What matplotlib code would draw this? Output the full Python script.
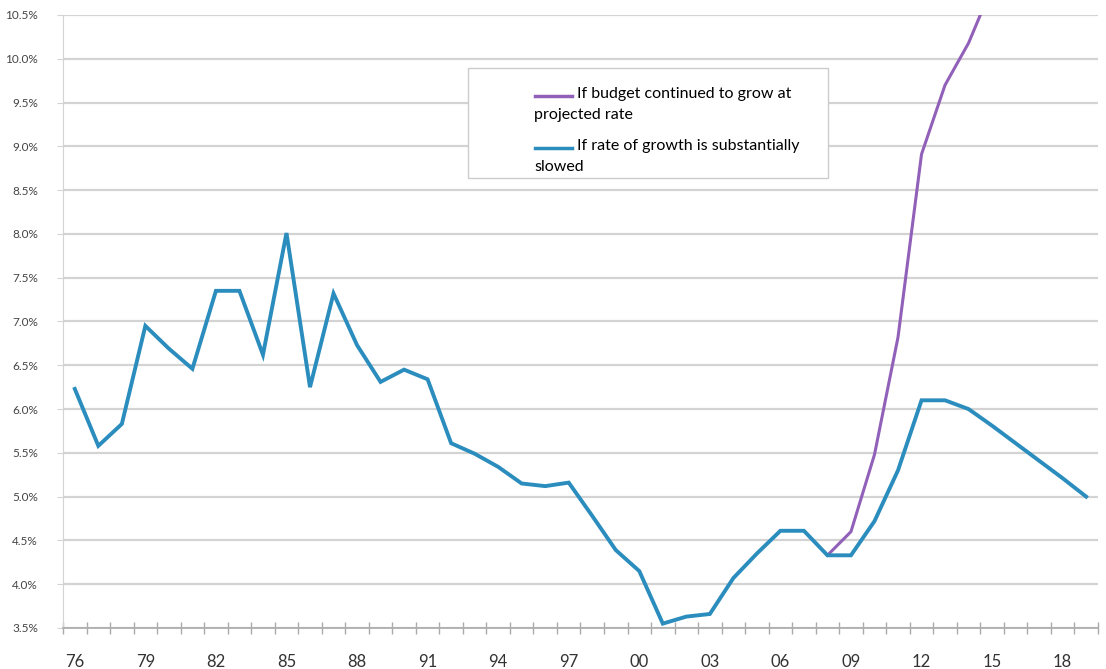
import numpy as np
import matplotlib.pyplot as plt
from matplotlib.patches import Rectangle
from matplotlib.ticker import FixedLocator, FuncFormatter

plt.rcParams['font.family'] = ['Lato', 'DejaVu Sans']

# jaren en reeksen (in %)
years = np.arange(1976, 2020)
slowed = [6.23, 5.58, 5.83, 6.95, 6.69, 6.46, 7.35, 7.35, 6.62, 8.01,
          6.25, 7.32, 6.73, 6.31, 6.45, 6.34, 5.61, 5.49, 5.34, 5.15,
          5.12, 5.16, 4.78, 4.39, 4.15, 3.55, 3.63, 3.66, 4.07, 4.35,
          4.61, 4.61, 4.33, 4.33, 4.72, 5.30, 6.10, 6.10, 6.00, 5.81,
          5.61, 5.41, 5.21, 5.00]
proj_years = np.arange(2008, 2016)
projected = [4.33, 4.60, 5.48, 6.82, 8.91, 9.70, 10.18, 10.82]

label_proj = "If budget continued to grow at\nprojected rate"
label_slow = "If rate of growth is substantially\nslowed"

blue = '#2b8dbd'
purple = '#9160b8'
grid_c = '#d3d3d3'

fig = plt.figure(figsize=(11.06, 6.69), dpi=100)
ax = fig.add_axes([0.057, 0.0613, 0.9357, 0.9163])

ax.plot(years, slowed, color=blue, lw=2.8, solid_joinstyle='miter', zorder=3)
ax.plot(proj_years, projected, color=purple, lw=2.2, zorder=2)

ax.set_xlim(1975.5, 2019.5)
ax.set_ylim(3.5, 10.5)

yt = np.arange(3.5, 10.51, 0.5)
ax.set_yticks(yt)
ax.yaxis.set_major_formatter(FuncFormatter(lambda v, p: f"{v:.1f}%"))
ax.grid(axis='y', color=grid_c, lw=1.6)
ax.set_axisbelow(True)

ax.set_xticks(np.arange(1976, 2019, 3))
ax.set_xticklabels([f"{y % 100:02d}" for y in range(1976, 2019, 3)])
ax.xaxis.set_minor_locator(FixedLocator(np.arange(1975.5, 2020, 1)))
ax.tick_params(axis='x', which='major', length=0, pad=19, labelsize=12, labelcolor='#333333')
ax.tick_params(axis='x', which='minor', direction='inout', length=9, width=1, color='#aaaaaa')
ax.tick_params(axis='y', length=4, color=grid_c, pad=14, labelsize=8.5, labelcolor='#444444')

for s in ['top', 'right']:
    ax.spines[s].set_visible(False)
ax.spines['left'].set_color(grid_c)
ax.spines['bottom'].set_color('#aaaaaa')
ax.spines['bottom'].set_linewidth(1.2)

# legenda met doorlopende tekst onder de lijnstukjes
def px(x, y):
    return (x / 1106, 1 - y / 669)

fig.patches.append(Rectangle(px(468, 178), 360 / 1106, 110 / 669, transform=fig.transFigure,
                             facecolor='white', edgecolor='#cccccc', lw=1, zorder=5))
for (hy, ty, col, lab) in [(96, 94, purple, label_proj), (148, 146, blue, label_slow)]:
    x0, y0 = px(535, hy)
    x1, _ = px(572, hy)
    fig.add_artist(plt.Line2D([x0, x1], [y0, y0], transform=fig.transFigure,
                              color=col, lw=2.5, zorder=6))
    first, second = lab.split("\n")
    fig.text(*px(577, ty), first, fontsize=11.5, va='center', ha='left', zorder=7)
    fig.text(*px(534, ty + 21), second, fontsize=11.5, va='center', ha='left', zorder=7)

fig.savefig('out.png', dpi=100)
